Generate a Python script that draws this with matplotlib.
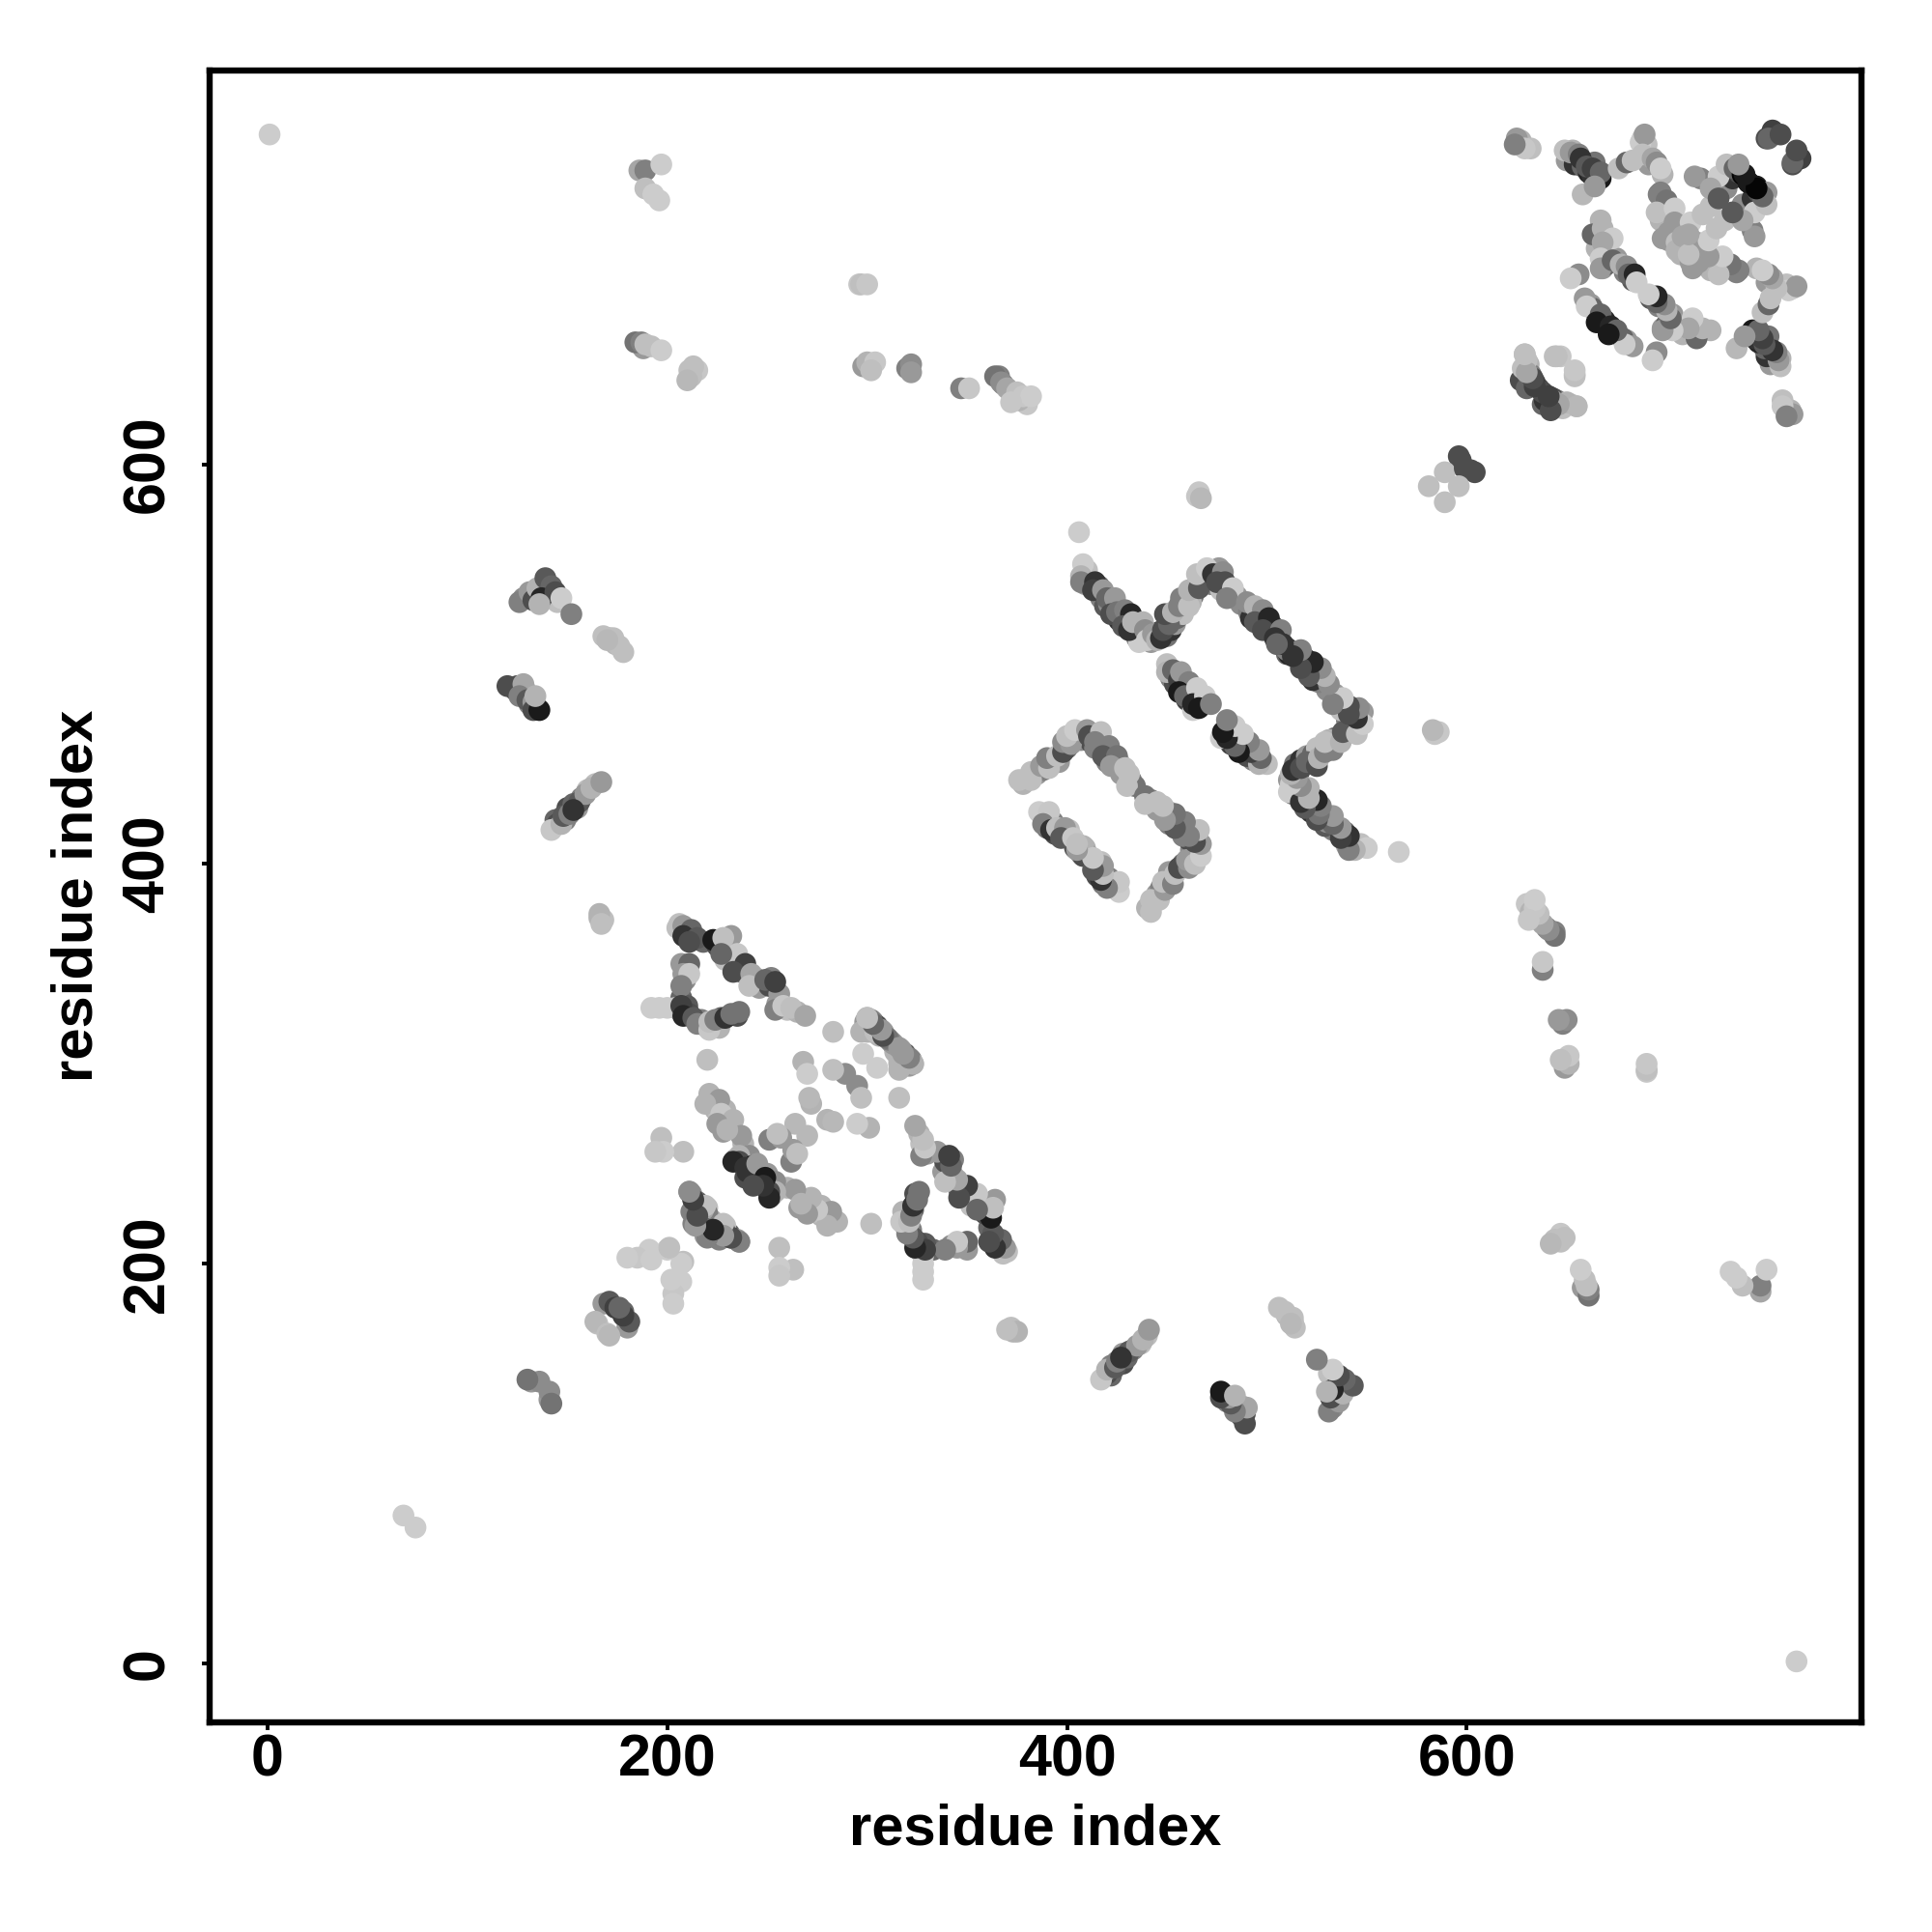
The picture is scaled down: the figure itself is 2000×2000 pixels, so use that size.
import numpy as np
import matplotlib
matplotlib.use("Agg")
import matplotlib.pyplot as plt

plt.rcParams['font.family'] = ['Liberation Sans', 'DejaVu Sans']

tick_values = [0, 200, 400, 600]
axis_label = "residue index"

far_i = [1, 68, 186, 189, 197, 189, 193, 196,
         184, 187, 189, 197, 212, 213, 210,
         297, 300, 300, 304, 302, 322, 322,
         347, 351, 364, 367, 370, 375, 378, 382, 372,
         465, 467,
         126, 131, 133, 135, 139, 142, 137, 144, 147, 152, 136,
         168, 173, 176, 170,
         120, 124, 128, 126, 130, 133, 133, 136, 134,
         142, 147, 148, 151, 153, 156, 159, 162, 167, 153,
         166, 167,
         165, 168, 171, 174, 178, 164,
         132, 136, 130]
far_j = [765, 74, 747, 747, 750, 738, 735, 732,
         661, 661, 660, 657, 644, 649, 642,
         690, 690, 651, 651, 647, 650, 646,
         638, 638, 644, 641, 638, 636, 634, 634, 631,
         584, 583,
         531, 536, 532, 538, 543, 539, 533, 536, 533, 525, 530,
         514, 513, 509, 512,
         489, 487, 490, 484, 482, 481, 477, 477, 484,
         417, 420, 424, 425, 430, 431, 435, 438, 441, 427,
         375, 370,
         170, 180, 181, 178, 176, 171,
         141, 141, 142]
far_g = [.8, .8, .65, .5, .8, .75, .8, .8,
         .45, .5, .75, .8, .75, .75, .72,
         .75, .78, .7, .78, .75, .55, .6,
         .5, .78, .45, .55, .65, .75, .78, .8, .78,
         .78, .72,
         .5, .6, .3, .7, .35, .4, .15, .3, .8, .5, .7,
         .75, .75, .75, .72,
         .3, .3, .65, .5, .35, .6, .3, .1, .7,
         .78, .7, .35, .5, .4, .35, .6, .7, .6, .2,
         .7, .75,
         .75, .6, .35, .25, .4, .72,
         .6, .55, .45]

# Domain around residues 180-330
low_i = [206, 208, 212, 208, 215, 211, 223, 232, 228, 235, 227, 239, 233, 242, 241, 249, 254,
         254, 258, 262, 269,
         211, 208, 211, 207, 192, 196, 200, 207, 208, 213, 215, 221, 221, 224, 229, 232, 236,
         220, 283, 297, 300, 303, 305, 308, 314, 317, 320, 323, 298,
         289, 283, 268, 270, 272, 271, 264, 251, 257, 255,
         221, 226, 219, 227, 233, 225, 237, 230, 241, 236, 236, 233, 243, 239, 239,
         208, 197, 198, 194,
         211, 213, 220, 214, 213, 217, 219, 229, 224, 232, 236,
         191, 185, 200, 192, 208, 180]
low_j = [370, 369, 367, 364, 363, 361, 362, 364, 363, 355, 355, 350, 346, 345, 339, 342, 341,
         327, 329, 328, 324,
         350, 345, 345, 339, 328, 328, 328, 329, 324, 323, 320, 317, 321, 322, 323, 325, 326,
         302, 316, 316, 323, 321, 318, 316, 308, 307, 303, 300, 305,
         295, 297, 301, 295, 280, 283, 270, 262, 263, 265,
         285, 282, 280, 275, 272, 270, 264, 267, 254, 254, 251, 251, 249, 248, 243,
         256, 263, 256, 256,
         236, 232, 228, 228, 220, 223, 214, 219, 215, 213, 211,
         207, 203, 207, 202, 201, 203]
low_g = [.75, .6, .4, .2, .35, .3, .1, .6, .75, .78, .4, .25, .3, .65, .75, .4, .25,
         .5, .78, .75, .65,
         .4, .6, .78, .5, .8, .8, .8, .25, .15, .35, .5, .78, .75, .5, .2, .45, .45,
         .75, .75, .7, .7, .5, .6, .6, .3, .6, .4, .75, .8,
         .55, .75, .7, .8, .7, .72, .72, .5, .6, .75,
         .7, .6, .7, .78, .7, .6, .6, .7, .55, .7, .3, .15, .1, .2, .3,
         .75, .75, .8, .78,
         .5, .3, .75, .6, .5, .15, .6, .75, .3, .25, .55,
         .8, .78, .8, .8, .75, .8]

# Domain around residues 376-510
mid_i = [406, 408, 407, 407, 414, 413, 418, 420, 424, 422, 425, 429, 432, 428, 431, 433, 438, 439, 440, 443,
         445, 447, 448, 451, 449, 453, 456, 457, 461, 461, 466, 465, 470,
         473, 478, 475, 479, 483, 480, 490, 494, 498, 494, 501, 498, 507, 504, 510, 510,
         450, 450, 453, 456, 457, 461, 456, 459, 465, 463, 469, 466, 472,
         376, 382, 382, 387, 391, 390, 395, 398, 398, 402, 400, 404, 410, 411, 417, 414, 421, 418, 425, 422, 429, 434, 430, 431,
         386, 391, 388, 392, 395, 399, 397, 403, 407, 410]
mid_j = [566, 550, 544, 541, 541, 537, 537, 533, 533, 525, 526, 527, 525, 519, 517, 521, 521, 517, 512, 515,
         512, 513, 517, 520, 525, 526, 529, 533, 529, 537, 538, 545, 548,
         545, 546, 541, 541, 538, 533, 531, 529, 527, 521, 523, 517, 517, 513, 508, 505,
         500, 496, 497, 492, 496, 491, 486, 484, 488, 480, 484, 478, 480,
         442, 442, 446, 449, 448, 453, 454, 456, 461, 460, 464, 467, 467, 464, 466, 461, 459, 454, 454, 449, 448, 439, 439, 445,
         426, 426, 420, 417, 418, 418, 413, 413, 405, 405]
mid_g = [.8, .8, .7, .5, .2, .25, .6, .4, .6, .3, .45, .5, .15, .35, .2, .7, .7, .55, .8, .6,
         .7, .2, .3, .4, .3, .7, .5, .5, .75, .7, .35, .75, .8,
         .2, .55, .3, .3, .8, .5, .55, .7, .55, .35, .15, .3, .5, .2, .2, .4,
         .75, .7, .4, .25, .6, .5, .1, .4, .8, .15, .8, .1, .5,
         .75, .75, .75, .6, .75, .5, .75, .3, .55, .6, .75, .8, .6, .3, .75, .5, .5, .35, .45, .6, .75, .45, .75, .75,
         .8, .78, .5, .2, .75, .6, .35, .78, .6, .75]

# Domain around residues 580-765
high_i = [596, 598, 589, 581,
          625, 629, 624, 649, 652, 656, 657, 660, 663, 667, 667, 658, 664,
          676, 680, 683, 687, 689, 688, 693, 695, 697, 697, 700, 695, 704, 704, 701, 710, 712, 701, 705, 718, 715,
          717, 714, 726, 722, 726, 730, 734, 738, 745, 750, 754, 751, 757,
          667, 663, 668, 673, 668, 667, 667, 673, 677, 680, 681, 684, 685, 656, 652, 659, 660, 667, 665,
          629, 630, 627, 634, 639, 643, 646, 655, 644, 647, 654]
high_j = [604, 599, 596, 589,
          763, 758, 760, 757, 756, 755, 753, 749, 748, 743, 746, 735, 739,
          748, 751, 752, 761, 765, 755, 753, 751, 748, 736, 732, 726, 728, 721, 716, 717, 721, 712, 711, 725, 711,
          743, 744, 744, 738, 733, 750, 748, 745, 739, 736, 765, 763, 765,
          722, 715, 718, 713, 711, 703, 698, 702, 700, 699, 695, 695, 691, 695, 693, 683, 679, 675, 671,
          655, 646, 642, 641, 634, 633, 630, 629, 654, 654, 645]
high_g = [.3, .3, .75, .75,
          .6, .78, .5, .75, .6, .5, .2, .35, .25, .1, .4, .72, .6,
          .75, .4, .75, .8, .6, .75, .65, .55, .8, .5, .45, .75, .8, .6, .6, .6, .8, .6, .75, .75, .65,
          .5, .6, .8, .65, .35, .75, .4, .02, .1, .6, .25, .4, .3,
          .7, .4, .7, .8, .65, .8, .6, .4, .7, .55, .4, .15, .8, .55, .8, .6, .8, .4, .1,
          .72, .65, .3, .25, .25, .3, .65, .75, .75, .78, .75]

# Contacts that are partly hidden inside the thick bands, drawn first
under_i = [410, 409, 416, 417, 419, 421, 427, 426, 430, 435, 437, 435, 442, 436,
           446, 450, 452, 454, 455, 458, 459, 463, 462,
           476, 472, 477, 482, 485, 487, 491, 492, 496, 499, 503, 505, 507,
           452, 454, 458, 461, 464, 467, 460, 463,
           378, 385, 388, 393, 396, 400, 402, 407, 412, 414, 417, 420, 420, 426, 427, 432,
           389, 390, 393, 394, 398, 401, 405, 404, 409,
           209, 213, 205, 218, 225, 231, 229, 236, 237, 244, 246, 251, 252, 256, 255, 260, 265,
           207, 209, 207, 206, 210, 211, 217, 219, 226, 227, 235, 204,
           299, 301, 302, 306, 310, 312, 313, 316, 319, 322, 300,
           223, 224, 229, 232, 226, 228, 238, 234, 238, 240, 245, 247, 246, 250,
           212, 215, 216, 222, 225, 226, 227, 231, 218,
           129, 125, 131, 135, 128, 140, 143, 145,
           144, 149, 150, 155, 157, 160, 164, 145,
           368, 372, 366, 380, 376, 302, 298, 320, 188, 192, 211, 215, 296, 466, 135,
           171, 174, 178, 166, 168,
           650, 654, 658, 661, 663, 664, 653, 627, 632,
           690, 688, 691, 698, 696, 699, 702, 697, 703, 698, 707, 707, 714,
           722, 728, 730, 733, 736, 741,
           668, 665, 670, 675, 679, 683, 662, 663, 669,
           631, 632, 636, 640, 645, 648, 652, 638, 632,
           750, 753, 597]
under_j = [547, 540, 539, 533, 529, 530, 522, 522, 522, 518, 514, 513, 511, 511,
           516, 514, 517, 520, 523, 525, 530, 534, 531,
           548, 540, 537, 535, 534, 530, 526, 523, 524, 520, 519, 511, 510,
           493, 490, 489, 486, 484, 481, 482, 477,
           440, 445, 447, 451, 451, 458, 463, 462, 461, 458, 459, 455, 451, 451, 445, 442,
           423, 418, 421, 415, 415, 417, 410, 408, 408,
           367, 364, 368, 361, 359, 357, 352, 349, 346, 343, 338, 339, 343, 335, 330, 327, 326,
           350, 342, 333, 327, 329, 325, 322, 319, 318, 323, 324, 328,
           321, 319, 316, 314, 313, 311, 310, 304, 305, 302, 316,
           280, 277, 277, 270, 274, 266, 260, 252, 253, 250, 246, 243, 240, 245,
           235, 225, 229, 222, 220, 212, 218, 215, 218,
           487, 489, 480, 534, 533, 537, 534, 531,
           422, 422, 428, 428, 433, 437, 440, 420,
           640, 636, 644, 630, 632, 650, 649, 648, 658, 659, 647, 647, 690, 586, 478,
           513, 510, 506, 373, 372,
           752, 750, 749, 746, 744, 751, 757, 762, 758,
           760, 763, 750, 745, 735, 728, 725, 722, 713, 713, 714, 705, 708,
           729, 739, 738, 743, 746, 741,
           698, 708, 700, 703, 696, 692, 680, 678, 672,
           650, 639, 638, 632, 632, 628, 630, 630, 643,
           763, 767, 602]
under_g = [.75, .6, .4, .5, .35, .55, .5, .2, .6, .7, .75, .5, .6, .8,
           .3, .45, .2, .6, .4, .75, .65, .45, .7,
           .6, .5, .75, .5, .6, .55, .5, .2, .7, .1, .35, .15, .5,
           .5, .3, .2, .3, .5, .4, .25, .8,
           .7, .6, .5, .55, .6, .4, .65, .55, .3, .5, .45, .55, .5, .7, .6, .5,
           .7, .45, .5, .3, .6, .75, .6, .3, .7,
           .5, .25, .75, .4, .3, .6, .75, .7, .45, .6, .6, .3, .5, .6, .6, .75, .7,
           .6, .55, .4, .5, .35, .3, .5, .6, .7, .4, .3, .75,
           .6, .5, .75, .7, .6, .5, .45, .75, .3, .5, .7,
           .6, .7, .7, .7, .75, .6, .7, .4, .25, .2, .45, .35, .2, .6,
           .6, .6, .5, .7, .5, .5, .65, .4, .4,
           .7, .3, .5, .4, .55, .25, .5, .75,
           .4, .5, .3, .6, .5, .75, .75, .3,
           .5, .6, .5, .78, .7, .75, .6, .5, .6, .75, .75, .78, .78, .78, .6,
           .7, .72, .75, .7, .75,
           .6, .2, .4, .15, .2, .45, .7, .7, .75,
           .75, .75, .6, .7, .5, .35, .55, .7, .65, .6, .6, .7, .65,
           .75, .3, .55, .2, .3, .1,
           .6, .7, .4, .6, .5, .35, .6, .4, .15,
           .7, .2, .3, .2, .5, .75, .75, .4, .6,
           .3, .25, .3]

res_i = np.array(under_i + far_i + low_i + mid_i + high_i, dtype=float)
res_j = np.array(under_j + far_j + low_j + mid_j + high_j, dtype=float)
shade = np.array(under_g + far_g + low_g + mid_g + high_g, dtype=float)

fig = plt.figure(figsize=(10, 10), dpi=200)
ax = fig.add_axes([217 / 2000, 217 / 2000, 1710 / 2000, 1710 / 2000])

# the map is symmetric: every contact is drawn at (i, j) and at (j, i)
xs = np.concatenate([res_i, res_j])
ys = np.concatenate([res_j, res_i])
cs = np.concatenate([shade, shade])
ax.scatter(xs, ys, s=66, c=[(g, g, g) for g in cs], linewidths=0, zorder=2)

ax.set_xlim(-29, 797.5)
ax.set_ylim(-29.5, 797)
ax.set_xticks(tick_values)
ax.set_yticks(tick_values)
for s in ax.spines.values():
    s.set_linewidth(2.3)
ax.tick_params(axis='x', length=3, width=1.4, pad=1, labelsize=22)
ax.tick_params(axis='y', length=3, width=1.4, pad=9.5, labelsize=22)
for t in ax.get_xticklabels():
    t.set_fontweight('bold')
for t in ax.get_yticklabels():
    t.set_fontweight('bold')
    t.set_rotation(90)
    t.set_verticalalignment('center')

ax.set_xlabel(axis_label, fontsize=21.5, fontweight='bold')
ax.set_ylabel(axis_label, fontsize=21.5, fontweight='bold')
ax.xaxis.set_label_coords(0.5, (1783 - 1894) / 1710, transform=ax.transAxes)
ax.xaxis.label.set_verticalalignment('center')
ax.yaxis.set_label_coords((80 - 217) / 1710, (1783 - 927) / 1710, transform=ax.transAxes)
ax.yaxis.label.set_verticalalignment('center')

fig.savefig("out.png", dpi=200, facecolor='white')
